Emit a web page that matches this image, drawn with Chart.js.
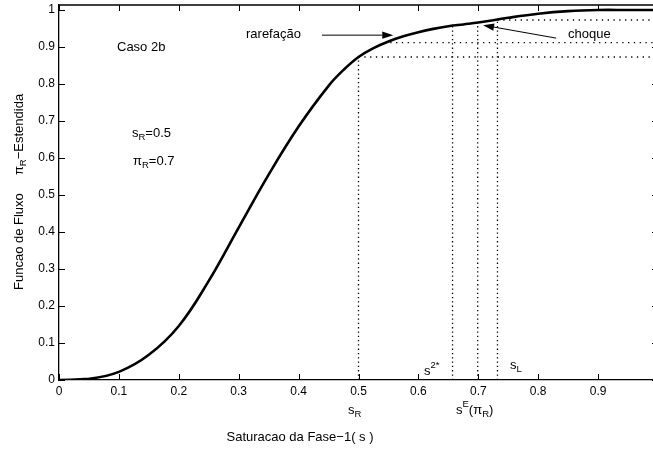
<!DOCTYPE html>
<html><head><meta charset="utf-8">
<script src="https://cdn.jsdelivr.net/npm/chart.js@4"></script>
<style>
html,body{margin:0;padding:0;overflow:hidden;background:#fff;width:653px;height:455px}
#wrap{width:660px;height:455px;position:relative}
</style></head><body><div id="wrap"><canvas id="c" width="660" height="455"></canvas></div>
<script>
// ---- data ----
const saturation = [0, 0.05, 0.1, 0.15, 0.2, 0.25, 0.3, 0.35, 0.4, 0.45, 0.475, 0.5, 0.525, 0.55, 0.575, 0.6, 0.625, 0.65, 0.675, 0.7, 0.75, 0.8, 0.85, 0.9, 0.95, 1.0];
const flux       = [0, 0.003, 0.022, 0.068, 0.146, 0.268, 0.412, 0.555, 0.685, 0.795, 0.838, 0.873, 0.897, 0.915, 0.929, 0.940, 0.949, 0.956, 0.961, 0.966, 0.979, 0.990, 0.997, 1.0, 1.0, 1.0];
// vertical dotted guides (s value, flux at top)
const guideS    = [0.5, 0.657, 0.699, 0.732];
const guideTop  = [0.873, 0.957, 0.966, 0.973];
// horizontal dotted guides (flux level, start s)
const levelF     = [0.873, 0.912, 0.973];
const levelStart = [0.5, 0.553, 0.732];
const levelEnd   = 1.0;
const xTickLabels = ['0','0.1','0.2','0.3','0.4','0.5','0.6','0.7','0.8','0.9'];
const yTickLabels = ['0','0.1','0.2','0.3','0.4','0.5','0.6','0.7','0.8','0.9','1'];

const FONT = '"Liberation Sans", Arial, Helvetica, sans-serif';

const datasets = [];
datasets.push({
  label: 'fluxo',
  data: saturation.map((s, i) => ({x: s, y: flux[i]})),
  borderColor: '#000', borderWidth: 2.6, pointRadius: 0,
  tension: 0.4, fill: false
});
guideS.forEach((s, i) => datasets.push({
  data: [{x: s, y: 0}, {x: s, y: guideTop[i]}],
  borderColor: '#000', borderWidth: 1.3, borderDash: [1.3, 3], pointRadius: 0, fill: false
}));
levelF.forEach((f, i) => datasets.push({
  data: [{x: levelStart[i], y: f}, {x: levelEnd, y: f}],
  borderColor: '#000', borderWidth: 1.3, borderDash: [1.3, 4.5], pointRadius: 0, fill: false
}));

function drawRuns(ctx, x, y, runs, align) {
  const sizes = {n: 13, sub: 9.5, sup: 9.5};
  const offs = {n: 0, sub: 4.5, sup: -6};
  let total = 0;
  runs.forEach(r => { ctx.font = sizes[r.k || 'n'] + 'px ' + FONT; r.w = ctx.measureText(r.t).width; total += r.w; });
  let cx = align === 'center' ? x - total / 2 : (align === 'right' ? x - total : x);
  ctx.textAlign = 'left';
  ctx.textBaseline = 'middle';
  runs.forEach(r => {
    const k = r.k || 'n';
    ctx.font = sizes[k] + 'px ' + FONT;
    ctx.fillText(r.t, cx, y + offs[k]);
    cx += r.w;
  });
}

function arrow(ctx, x1, y1, x2, y2) {
  const a = Math.atan2(y2 - y1, x2 - x1);
  const L = 11, W = 3.6;
  ctx.beginPath();
  ctx.moveTo(x1, y1);
  ctx.lineTo(x2 - L * Math.cos(a), y2 - L * Math.sin(a));
  ctx.lineWidth = 1; ctx.strokeStyle = '#000'; ctx.stroke();
  ctx.beginPath();
  ctx.moveTo(x2, y2);
  ctx.lineTo(x2 - L * Math.cos(a) + W * Math.sin(a), y2 - L * Math.sin(a) - W * Math.cos(a));
  ctx.lineTo(x2 - L * Math.cos(a) - W * Math.sin(a), y2 - L * Math.sin(a) + W * Math.cos(a));
  ctx.closePath(); ctx.fillStyle = '#000'; ctx.fill();
}

const decor = {
  id: 'decor',
  afterDraw(chart) {
    const ctx = chart.ctx, a = chart.chartArea;
    const xs = chart.scales.x, ys = chart.scales.y;
    ctx.save();
    ctx.strokeStyle = '#000'; ctx.lineWidth = 1.3;
    // top frame & right frame
    ctx.beginPath(); ctx.moveTo(a.left, a.top); ctx.lineTo(a.right, a.top); ctx.lineTo(a.right, a.bottom); ctx.stroke();
    // inward ticks
    ctx.lineWidth = 1;
    ctx.beginPath();
    xs.ticks.forEach(t => { const p = Math.round(xs.getPixelForValue(t.value)) + 0.5;
      ctx.moveTo(p, a.bottom); ctx.lineTo(p, a.bottom - 6);
      ctx.moveTo(p, a.top); ctx.lineTo(p, a.top + 6); });
    ys.ticks.forEach(t => { const p = Math.round(ys.getPixelForValue(t.value)) + 0.5;
      ctx.moveTo(a.left, p); ctx.lineTo(a.left + 6, p);
      ctx.moveTo(a.right, p); ctx.lineTo(a.right - 6, p); });
    ctx.stroke();
    ctx.fillStyle = '#000';
    const X = v => xs.getPixelForValue(v), Y = v => ys.getPixelForValue(v);
    // arrows
    arrow(ctx, X(0.439), Y(0.932), X(0.558), Y(0.932));
    arrow(ctx, X(0.830), Y(0.924), X(0.708), Y(0.959));
    // annotations
    drawRuns(ctx, 117, 47, [{t: 'Caso 2b'}], 'left');
    drawRuns(ctx, 246, 34, [{t: 'rarefação'}], 'left');
    drawRuns(ctx, 568, 34, [{t: 'choque'}], 'left');
    drawRuns(ctx, 132, 133, [{t: 's'}, {t: 'R', k: 'sub'}, {t: '=0.5'}], 'left');
    drawRuns(ctx, 133, 161, [{t: 'π'}, {t: 'R', k: 'sub'}, {t: '=0.7'}], 'left');
    drawRuns(ctx, 348, 410, [{t: 's'}, {t: 'R', k: 'sub'}], 'left');
    drawRuns(ctx, 456, 410, [{t: 's'}, {t: 'E', k: 'sup'}, {t: '(π'}, {t: 'R', k: 'sub'}, {t: ')'}], 'left');
    drawRuns(ctx, 424, 371, [{t: 's'}, {t: '2*', k: 'sup'}], 'left');
    drawRuns(ctx, 510, 365, [{t: 's'}, {t: 'L', k: 'sub'}], 'left');
    drawRuns(ctx, 300, 437, [{t: 'Saturacao da Fase\u22121( s )'}], 'center');
    // rotated y title
    ctx.save();
    ctx.translate(19, 290);
    ctx.rotate(-Math.PI / 2);
    drawRuns(ctx, 0, 0, [{t: 'Funcao de Fluxo     π'}, {t: 'R', k: 'sub'}, {t: '\u2212Estendida'}], 'left');
    ctx.restore();
    ctx.restore();
  }
};

new Chart(document.getElementById('c'), {
  type: 'scatter',
  data: {datasets},
  plugins: [decor],
  options: {
    responsive: false, animation: false, showLine: true,
    layout: {padding: {top: 5, right: 2, left: 0, bottom: 0}},
    plugins: {legend: {display: false}, tooltip: {enabled: false}},
    elements: {line: {tension: 0}},
    scales: {
      x: {
        type: 'linear', min: 0, max: 1,
        grid: {display: false, drawTicks: false},
        border: {display: true, color: '#000', width: 1.3},
        ticks: {color: '#000', font: {family: FONT, size: 12}, padding: 4, maxRotation: 0, autoSkip: false,
                callback: (v, i) => xTickLabels[i]},
        afterBuildTicks: s => { s.ticks = xTickLabels.map(l => ({value: parseFloat(l)})); },
        afterFit: s => { s.height = 75; s.paddingLeft = 0; s.paddingRight = 0; }
      },
      y: {
        type: 'linear', min: 0, max: 1.0135,
        grid: {display: false, drawTicks: false},
        border: {display: true, color: '#000', width: 1.3},
        ticks: {color: '#000', font: {family: FONT, size: 12}, padding: 4, autoSkip: false,
                callback: (v, i) => yTickLabels[i]},
        afterBuildTicks: s => { s.ticks = yTickLabels.map(l => ({value: parseFloat(l)})); },
        afterFit: s => { s.width = 59; s.paddingTop = 0; s.paddingBottom = 0; }
      }
    }
  }
});
</script></body></html>
